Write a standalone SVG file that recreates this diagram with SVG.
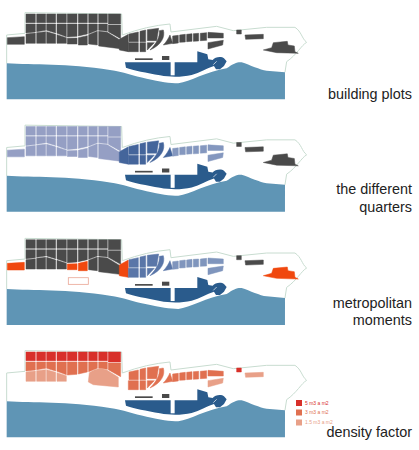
<svg xmlns="http://www.w3.org/2000/svg" width="419" height="450" viewBox="0 0 419 450">
<style>
text{font-family:"Liberation Sans",Arial,sans-serif}
.lab{font-size:14.4px;fill:#222;text-anchor:end}
.leg{font-size:5px}
.out{fill:none;stroke:#c8dcd0;stroke-width:3}
.w{fill:#5f95b5}.h{fill:#2a5b8c}.k{fill:#fff}
.d{fill:#4a4a4a;stroke:#4a4a4a}.l{fill:#959fc4;stroke:#959fc4}.b{fill:#44659b;stroke:#44659b}.m{fill:#8497bf;stroke:#8497bf}.n{fill:#5a76a8;stroke:#5a76a8}.o{fill:#7f95bd;stroke:#7f95bd}
.r{fill:#f0480f;stroke:#f0480f}.c{fill:#d8302a;stroke:#d8302a}.e{fill:#e07050;stroke:#e07050}.s{fill:#e8a088;stroke:#e8a088}
g[id^="panel"] g,g[id^="panel"] use{stroke-width:1.5}
#legend rect{stroke:none}
</style>
<defs>
<g id="base">
<path class="out" d="M20,190V105L75,100V38L365,42L367,105Q440,78 510,72L513,96L650,79L700,92L800,82L885,82C905,95 905,115 920,127C905,135 890,165 860,185L855,217"/>
<path class="w" d="M20,190C100,195 200,190 330,210C370,215 400,228 440,236C480,245 510,250 535,250C570,245 620,215 680,205C700,190 715,185 725,187C750,195 780,210 800,212L855,217V298H20Z"/>
<path class="h" d="M375,187H592V154L622,163L625,178L638,180C645,170 665,168 672,175L680,184L672,198L660,208L648,208L642,198C620,205 600,218 575,225C545,232 510,232 480,226C440,218 400,212 378,203Z"/>
<rect class="k" x="512" y="185" width="12" height="41"/>
<path d="M640,194L650,184" stroke="#fff" stroke-width="2" fill="none"/>
<rect x="405" y="175" width="53" height="5" fill="#4a4a4a"/>
<rect x="486" y="168" width="22" height="12" fill="#4a4a4a"/>
</g>
<path id="r1" d="M78,42h28v26h-28zM110,42h27v26h-27zM140,42h27v26h-27zM171,42h28v26h-28zM202,42h29v26h-29zM235,42h27v26h-27zM266,42h26v26h-26zM296,42h26v26h-26zM325,42h37v30h-37z"/>
<path id="r2" d="M78,72H106V96L78,99ZM110,72H137V91L110,95ZM140,72H167V99L140,91ZM171,72H199V110L171,100ZM202,72H231V109L202,111ZM235,72H262V102L235,108ZM266,72H292V91L266,101ZM296,72H322V94L296,91ZM325,75H362V116L325,95Z"/>
<path id="r3a" d="M78,102L106,99V130H78ZM110,98L137,95V130H110ZM140,95L167,103V130H140Z"/>
<path id="r3b" d="M171,104L199,113V130H171Z"/>
<path id="r3c" d="M202,115L231,114V132H202ZM235,113L262,107V135H235Z"/>
<path id="r3d" d="M266,104L292,94V135L266,132ZM296,94L322,97L360,120V146L296,138Z"/>
<path id="r3m" d="M268,104C285,92 305,88 322,97L355,118V147L280,140L265,132Z"/>
<path id="wl" d="M22,113L73,110V133H22Z"/>
<path id="ml" d="M358,118L385,103V155L358,150Z"/>
<path id="mc" d="M387,102L415,96V125H387ZM420,94L437,90V125H420ZM442,89L476,85L470,122H442ZM385,128H415V155H385ZM420,128H437V155H420ZM442,128H463L442,150Z"/>
<path id="cr" d="M490,90C496,110 485,135 450,150C470,130 480,110 478,92ZM510,105L518,130L490,135C500,125 505,115 510,105Z"/>
<path id="me" d="M518,108L535,106V129L518,131ZM539,105L556,103V126L539,127ZM560,103L576,101V124L560,125ZM580,101L596,100V123L580,124ZM601,100L620,98V121L601,122ZM624,97L670,100V114L624,114Z"/>
<path id="ml2" d="M624,128L670,121L668,135L624,147Z"/>
<path id="es" d="M710,90H724V102H710Z"/>
<path id="el" d="M735,105L790,103V116L737,118Z"/>
<path id="bl" d="M790,150L815,143L820,128L862,124L864,135L883,138L885,155L895,160L830,158Z"/>
</defs>

<g id="connectors"/>

<g id="panel-building-plots" transform="scale(.3333)">
<use href="#base"/>
<g class="d"><use href="#r1"/><use href="#r2"/><use href="#r3a"/><use href="#r3b"/><use href="#r3c"/><use href="#r3d"/><use href="#wl"/><use href="#ml"/><use href="#mc"/><use href="#cr"/><use href="#me"/><use href="#ml2"/><use href="#es"/><use href="#el"/><use href="#bl"/></g>
</g>

<g id="panel-quarters" transform="translate(0,112.5) scale(.3333)">
<use href="#base"/>
<g class="l"><use href="#r1"/><use href="#r2"/><use href="#r3a"/><use href="#r3b"/><use href="#r3c"/><use href="#r3d"/><use href="#wl"/></g>
<g class="b"><use href="#ml"/><use href="#mc"/><use href="#cr"/></g>
<g class="m"><use href="#me"/><use href="#ml2"/></g>
<g class="d"><use href="#es"/><use href="#el"/><use href="#bl"/></g>
</g>

<g id="panel-metropolitan" transform="translate(0,225.7) scale(.3333)">
<use href="#base"/>
<g class="d"><use href="#r1"/><use href="#r2"/><use href="#r3a"/><use href="#r3b"/><use href="#r3d"/><use href="#es"/><use href="#el"/></g>
<g class="r"><use href="#wl"/><use href="#r3c"/><use href="#ml"/><use href="#bl"/></g>
<rect x="205" y="156" width="60" height="20" fill="none" stroke="#eba898" stroke-width="2.5"/>
<g class="n"><use href="#mc"/><use href="#cr"/></g>
<g class="o"><use href="#me"/><use href="#ml2"/></g>
</g>

<g id="panel-density" transform="translate(0,338) scale(.3333)">
<use href="#base"/>
<use href="#r1" class="c"/>
<g class="e"><use href="#r2"/><use href="#mc"/><use href="#cr"/><use href="#me"/></g>
<g class="s"><use href="#r3a"/><use href="#r3b"/><use href="#r3m"/><use href="#ml2"/><use href="#el"/></g>
<use href="#es" class="c"/>
</g>

<g id="legend">
<rect x="296" y="400" width="6" height="6" class="c"/>
<rect x="296" y="409.500" width="6" height="6" class="e"/>
<rect x="296" y="419.500" width="6" height="6" class="s"/>
<text x="305" y="404.500" class="leg" fill="#d8302a">5 m3 a m2</text>
<text x="305" y="414" class="leg" fill="#e07050">3 m3 a m2</text>
<text x="305" y="424" class="leg" fill="#e8a088">1.5 m3 a m2</text>
</g>

<g id="labels">
<text x="412" y="99" class="lab">building plots</text>
<text x="412" y="194" class="lab">the different</text>
<text x="412" y="212" class="lab">quarters</text>
<text x="412" y="308" class="lab">metropolitan</text>
<text x="412" y="325" class="lab">moments</text>
<text x="412" y="437" class="lab">density factor</text>
</g>
</svg>
